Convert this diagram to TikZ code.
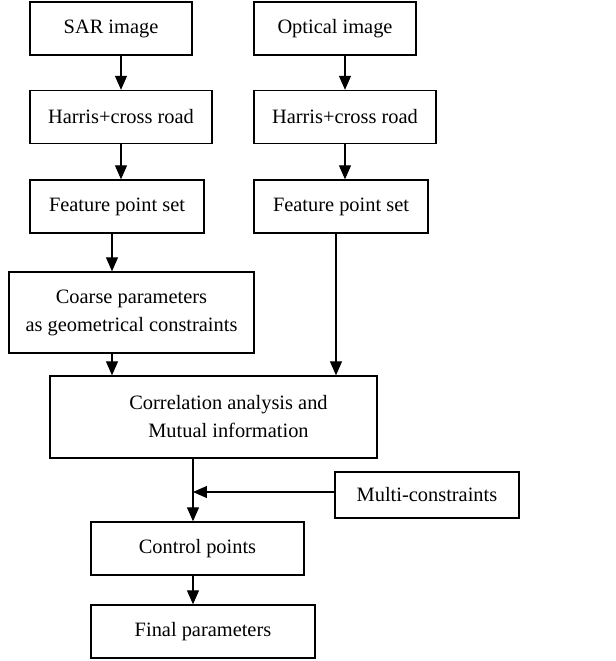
\documentclass[tikz,border=0pt]{standalone}
\usepackage{fontspec}
\setmainfont{Liberation Serif}
\usetikzlibrary{arrows.meta,calc}
\begin{document}
\begin{tikzpicture}[x=0.5pt,y=-0.5pt,line width=0.6pt,>={Triangle[length=7pt,width=6pt]},font=\fontsize{10.2}{14}\selectfont,
	box/.style={draw,line width=0.7pt,inner sep=0pt,minimum height=26.5pt,align=center}]
				\useasboundingbox (0,0) rectangle (616,661);
				% left branch
				\node[box,minimum width=81pt] (sar) at (111,28.5) {SAR image};
				\node[box,minimum width=91pt] (harL) at (121,117) {Harris+cross road};
				\node[box,minimum width=87pt] (feaL) at (117,206.5) {Feature point set};
				\node[box,minimum width=122.5pt,minimum height=40.5pt] (coarse) at (131.5,312.5) {Coarse parameters\\as geometrical constraints};
				% right branch
				\node[box,minimum width=81pt] (opt) at (335,28.5) {Optical image};
				\node[box,minimum width=91pt] (harR) at (345,117) {Harris+cross road};
				\node[box,minimum width=87pt] (feaR) at (341,206.5) {Feature point set};
				% bottom
				\node[box,minimum width=163.5pt,minimum height=41pt] (corr) at (213.5,417) {\hspace*{15pt}Correlation analysis and\\\hspace*{15pt}Mutual information};
				\node[box,minimum width=92pt,minimum height=23pt] (multi) at (427,495) {Multi-constraints};
				\node[box,minimum width=106.5pt] (ctrl) at (197.5,548.5) {Control points};
				\node[box,minimum width=112pt] (fin) at (203,631.5) {Final parameters};
				\coordinate (l) at ([xshift=-2.5pt]feaL.south);
				\coordinate (r) at ([xshift=-2.5pt]feaR.south);
				\coordinate (m) at ([xshift=-2.25pt]ctrl.north);
				\draw[->] (sar.south -| harL.north) -- (harL.north);
				\draw[->] (opt.south -| harR.north) -- (harR.north);
				\draw[->] (harL.south) -- (harL.south |- feaL.north);
				\draw[->] (harR.south) -- (harR.south |- feaR.north);
				\draw[->] (l) -- (l |- coarse.north);
				\draw[->] (coarse.south -| l) -- (corr.north -| l);
				\draw[->] (r) -- (r |- corr.north);
				\draw[->] (corr.south -| m) -- (m);
				\draw[->] ([yshift=1.5pt]multi.west) -- ([yshift=1.5pt]multi.west -| m);
				\draw[->] (ctrl.south -| m) -- (fin.north -| m);
			\end{tikzpicture}
\end{document}
